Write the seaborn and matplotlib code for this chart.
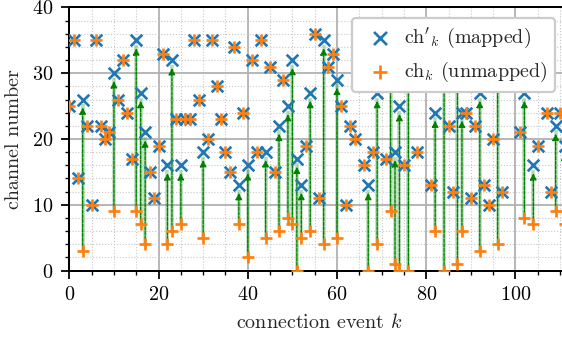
import numpy as np
import pandas as pd
import matplotlib
matplotlib.use("Agg")
import matplotlib.pyplot as plt
import seaborn as sns
from matplotlib.ticker import MultipleLocator

# ---- data ----
events = list(range(0, 112))
mapped = [25, 35, 14, 26, 22, 10, 35, 22, 20, 21,
          30, 26, 32, 24, 17, 35, 27, 21, 15, 11,
          19, 33, 16, 32, 23, 16, 23, 23, 35, 26,
          18, 20, 35, 28, 23, 18, 15, 34, 13, 24,
          16, 32, 18, 35, 18, 31, 15, 22, 29, 25,
          32, 17, 13, 19, 27, 36, 11, 35, 31, 33,
          29, 25, 10, 22, 20, 30, 16, 13, 18, 27,
          30, 17, 30, 18, 25, 16, 30, 30, 18, 30,
          30, 13, 24, 30, 30, 22, 12, 30, 24, 24,
          11, 22, 27, 13, 10, 20, 30, 12, 30, 30,
          30, 21, 27, 30, 16, 19, 30, 24, 12, 22,
          24, 19]
unmapped = [25, 35, 14, 3, 22, 10, 35, 22, 20, 21,
            9, 26, 32, 24, 17, 9, 7, 4, 15, 11,
            19, 33, 4, 6, 23, 7, 23, 23, 35, 26,
            5, 20, 35, 28, 23, 18, 15, 34, 7, 24,
            2, 32, 18, 35, 5, 31, 15, 6, 29, 8,
            7, 0, 5, 19, 6, 36, 11, 4, 31, 33,
            5, 25, 10, 22, 20, 30, 16, 0, 18, 4,
            30, 17, 9, 1, 0, 16, 0, 30, 18, 30,
            30, 13, 6, 30, 0, 22, 12, 1, 6, 24,
            11, 22, 3, 13, 10, 20, 4, 12, 30, 30,
            30, 21, 8, 30, 7, 19, 30, 24, 12, 9,
            24, 7]

x_ticks = [0, 20, 40, 60, 80, 100]
y_ticks = [0, 10, 20, 30, 40]
label_mapped = r"$\mathrm{ch}'_k$ (mapped)"
label_unmapped = r"$\mathrm{ch}_k$ (unmapped)"

df = pd.DataFrame({"k": events, "mapped": mapped, "unmapped": unmapped})

# ---- style ----
sns.set_style("ticks")
plt.rcParams["font.family"] = ["cmr10", "DejaVu Serif"]
plt.rcParams["mathtext.fontset"] = "cm"
plt.rcParams["axes.formatter.use_mathtext"] = True
plt.rcParams["font.size"] = 9
plt.rcParams["axes.unicode_minus"] = False

dpi = 160.57
W, H = 562, 337
fig = plt.figure(figsize=(W / dpi, H / dpi), dpi=dpi)
px_per_unit = 4.4618
x0_px = 69.3
xmax = 112
ax = fig.add_axes([x0_px / W, 1 - 270.5 / H, xmax * px_per_unit / W, (270.5 - 7.5) / H])

blue = "#1f77b4"
orange = "#ff7f0e"

# arrows from unmapped to mapped
for k, m, u in zip(df["k"], df["mapped"], df["unmapped"]):
    if m != u:
        ax.plot([k, k], [u, m - 0.7], color="#2ca02c", lw=1.6, alpha=0.35, zorder=2,
                solid_capstyle="butt")
        ax.annotate("", xy=(k, m), xytext=(k, u),
                    arrowprops=dict(arrowstyle="-|>", color="green", lw=0.6, ls=(0, (2.5, 1.0)),
                                    shrinkA=0, shrinkB=3.5, mutation_scale=6),
                    zorder=2)

sns.scatterplot(data=df, x="k", y="mapped", marker="x", color=blue, s=27,
                linewidth=1.2, ax=ax, zorder=3, label=label_mapped)
sns.scatterplot(data=df, x="k", y="unmapped", marker="+", color=orange, s=32,
                linewidth=1.2, ax=ax, zorder=4, label=label_unmapped)

ax.set_xlim(0, xmax)
ax.set_ylim(0, 40)
ax.set_xticks(x_ticks)
ax.set_yticks(y_ticks)
ax.xaxis.set_minor_locator(MultipleLocator(5))
ax.yaxis.set_minor_locator(MultipleLocator(2))
ax.grid(which="major", color="#b0b0b0", lw=0.8, ls="-")
ax.grid(which="minor", color="#c8c8c8", lw=0.5, ls=":")
ax.set_axisbelow(True)
ax.tick_params(which="major", direction="out", length=3.5, width=0.8, colors="black")
ax.tick_params(which="minor", direction="out", length=2.0, width=0.6, colors="black")
for s in ax.spines.values():
    s.set_visible(True)
    s.set_color("black")
    s.set_linewidth(0.9)

ax.set_xlabel(r"connection event $k$")
ax.set_ylabel("channel number")

leg = ax.legend(loc="upper right", bbox_to_anchor=(555 / W, 1 - 18 / H),
                bbox_transform=fig.transFigure, borderaxespad=0, frameon=True,
                framealpha=1.0, edgecolor="0.8", fancybox=True,
                handletextpad=0.2)
leg.set_zorder(10)
for h in leg.legend_handles:
    h.set_sizes([34])

fig.savefig("out.png", dpi=dpi)
